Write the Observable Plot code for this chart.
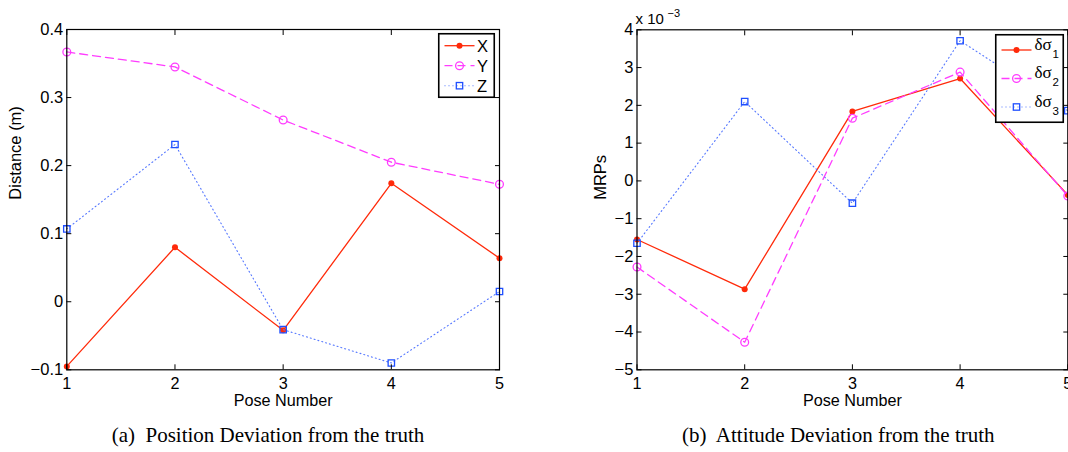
<!DOCTYPE html>
<html><head><meta charset="utf-8">
<script src="https://cdn.jsdelivr.net/npm/d3@7"></script>
<script src="https://cdn.jsdelivr.net/npm/@observablehq/plot@0.6"></script>
<style>
html,body{margin:0;padding:0;background:#fff;overflow:hidden;}
#fig{position:relative;width:1068px;height:452px;overflow:hidden;font-family:"Liberation Sans",Arial,sans-serif;}
.panel{position:absolute;top:0;}
.caption{position:absolute;top:423px;font-family:"Liberation Serif","Times New Roman",serif;font-size:21px;white-space:pre;line-height:24px;transform:translateX(-50%);color:#000;}
.legend{position:absolute;overflow:visible;}
</style></head><body><div id="fig"></div>
<script>
// ---------- data ----------
const poses = [1, 2, 3, 4, 5];
// (a) Position deviation (m)
const posNames = ["X", "Y", "Z"];
const posX = [-0.095, 0.080, -0.042, 0.174, 0.064];
const posY = [0.367, 0.345, 0.267, 0.205, 0.1725];
const posZ = [0.107, 0.231, -0.041, -0.090, 0.015];
const posTicks = [-0.1, 0, 0.1, 0.2, 0.3, 0.4];
// (b) Attitude deviation (MRPs)
const attNames = ["1", "2", "3"]; // subscripts of δσ
const sig1 = [-1.55e-3, -2.865e-3, 1.84e-3, 2.71e-3, -0.37e-3];
const sig2 = [-2.28e-3, -4.27e-3, 1.66e-3, 2.88e-3, -0.40e-3];
const sig3 = [-1.65e-3, 2.10e-3, -0.59e-3, 3.71e-3, 1.86e-3];
const attTicks = [-5, -4, -3, -2, -1, 0, 1, 2, 3, 4];

// ---------- styles ----------
const styles = [
  {stroke: "#ff2a0a", width: 1.3, dash: null, symbol: "circle", r: 3, fill: "#ff2a0a", mstroke: "none"},
  {stroke: "#ff3cff", width: 1.3, dash: "8,5", symbol: "circle", r: 3.9, fill: "none", mstroke: "#ff3cff"},
  {stroke: "#5577ff", width: 1.1, dash: "1,3", symbol: "square", r: 3.6, fill: "none", mstroke: "#1f4fff"}
];
const FONT = "Liberation Sans, Arial, sans-serif";
const W = 534, H = 415;

function panel(seriesVals, {yDomain, yTicks, yFmt, ylabel, ylabelDx, mL, mR, mT, mB, extra = []}) {
  const marks = [];
  seriesVals.forEach((vals, i) => {
    const rows = poses.map((p, j) => ({pose: p, value: vals[j]}));
    const s = styles[i];
    marks.push(Plot.line(rows, {x: "pose", y: "value", stroke: s.stroke, strokeWidth: s.width, strokeDasharray: s.dash}));
    marks.push(Plot.dot(rows, {x: "pose", y: "value", symbol: s.symbol, r: s.r, fill: s.fill, stroke: s.mstroke, strokeWidth: 1.3}));
  });
  marks.push(
    Plot.frame({stroke: "#000", strokeWidth: 1.2}),
    Plot.axisX({anchor: "bottom", ticks: poses, tickSize: -5, tickPadding: 12.3, tickFormat: d => String(d), label: null, fontSize: 16.2}),
    Plot.axisX({anchor: "top", ticks: poses, tickSize: -5, tickFormat: () => "", label: null}),
    Plot.axisY({anchor: "left", ticks: yTicks, tickSize: -5, tickPadding: 8.6, tickFormat: yFmt, label: null, fontSize: 16.5}),
    Plot.axisY({anchor: "right", ticks: yTicks, tickSize: -5, tickFormat: () => "", label: null}),
    Plot.text(["Pose Number"], {frameAnchor: "bottom", dy: 30.6, fontSize: 16.2, lineAnchor: "middle"}),
    Plot.text([ylabel], {frameAnchor: "left", dx: ylabelDx, rotate: -90, fontSize: 16.5, lineAnchor: "middle"}),
    ...extra
  );
  return Plot.plot({
    width: W, height: H,
    marginLeft: mL, marginRight: mR, marginTop: mT, marginBottom: mB,
    style: {fontFamily: FONT, fontSize: "16.5px", color: "#000", background: "#fff", overflow: "visible"},
    x: {domain: [1, 5]},
    y: {domain: yDomain},
    marks
  });
}

const fig = document.getElementById("fig");

// left panel
const left = panel([posX, posY, posZ], {
  yDomain: [-0.1, 0.4], yTicks: posTicks, yFmt: d => d === 0 ? "0" : (d < 0 ? "\u2212" : "") + Math.abs(d).toFixed(1),
  ylabel: "Distance (m)", ylabelDx: -50.6, mL: 66.3, mR: W - 499, mT: 29, mB: H - 369.3
});
left.classList.add("panel"); left.style.left = "0px";
fig.appendChild(left);

// right panel
const right = panel([sig1, sig2, sig3], {
  yDomain: [-5e-3, 4e-3], yTicks: attTicks.map(v => v * 1e-3),
  yFmt: d => { const v = Math.round(d * 1e3); return v < 0 ? "\u2212" + (-v) : String(v); },
  ylabel: "MRPs", ylabelDx: -36.5, mL: 66.5, mR: W - (1067.3 - 570), mT: 29.3, mB: H - 369.3,
  extra: [
    Plot.text(["x 10"], {frameAnchor: "top-left", dx: -1.5, dy: -10.3, textAnchor: "start", lineAnchor: "middle", fontSize: 15}),
    Plot.text(["\u22123"], {frameAnchor: "top-left", dx: 30.5, dy: -16.8, textAnchor: "start", lineAnchor: "middle", fontSize: 11})
  ]
});
right.classList.add("panel"); right.style.left = "570px";
fig.appendChild(right);

// legends
const NS = "http://www.w3.org/2000/svg";
function el(tag, attrs, parent) {
  const e = document.createElementNS(NS, tag);
  for (const k in attrs) e.setAttribute(k, attrs[k]);
  if (parent) parent.appendChild(e);
  return e;
}
function marker(g, s, cx, cy) {
  if (s.symbol === "square") {
    const a = s.r * Math.sqrt(Math.PI);
    el("rect", {x: cx - a / 2, y: cy - a / 2, width: a, height: a, fill: "none", stroke: s.mstroke, "stroke-width": 1.3}, g);
  } else {
    el("circle", {cx, cy, r: s.r, fill: s.fill, stroke: s.mstroke, "stroke-width": 1.3}, g);
  }
}
function legend(x, y, w, h, rowsY, labelFn) {
  const svg = el("svg", {width: w, height: h, class: "legend"});
  svg.style.left = x + "px"; svg.style.top = y + "px";
  el("rect", {x: 0.75, y: 0.75, width: w - 1.5, height: h - 1.5, fill: "#fff", stroke: "#000", "stroke-width": 1.6}, svg);
  rowsY.forEach((ry, i) => {
    const s = styles[i];
    el("line", {x1: 6.5, x2: 36.5, y1: ry, y2: ry, stroke: s.stroke, "stroke-width": s.width, "stroke-dasharray": s.dash || "none"}, svg);
    marker(svg, s, 21.5, ry);
    labelFn(svg, i, ry);
  });
  fig.appendChild(svg);
}
legend(438, 33, 57, 65, [12.7, 32.7, 52.7], (svg, i, ry) => {
  const t = el("text", {x: 39, y: ry, "font-family": FONT, "font-size": 16.5, "dominant-baseline": "central"}, svg);
  t.textContent = posNames[i];
});
legend(995, 34, 69, 89, [16, 44.5, 73], (svg, i, ry) => {
  const t = el("text", {x: 39.5, y: ry - 6, "font-family": "Liberation Serif, Times New Roman, serif", "font-size": 17, "dominant-baseline": "central"}, svg);
  t.textContent = "\u03b4\u03c3";
  const sub = el("text", {x: 57.5, y: ry + 3.5, "font-family": FONT, "font-size": 11.5, "dominant-baseline": "central"}, svg);
  sub.textContent = attNames[i];
});

// captions
function caption(text, cx) {
  const d = document.createElement("div");
  d.className = "caption"; d.style.left = cx + "px"; d.textContent = text;
  fig.appendChild(d);
}
caption("(a)  Position Deviation from the truth", 268);
caption("(b)  Attitude Deviation from the truth", 838.3);
</script></body></html>
